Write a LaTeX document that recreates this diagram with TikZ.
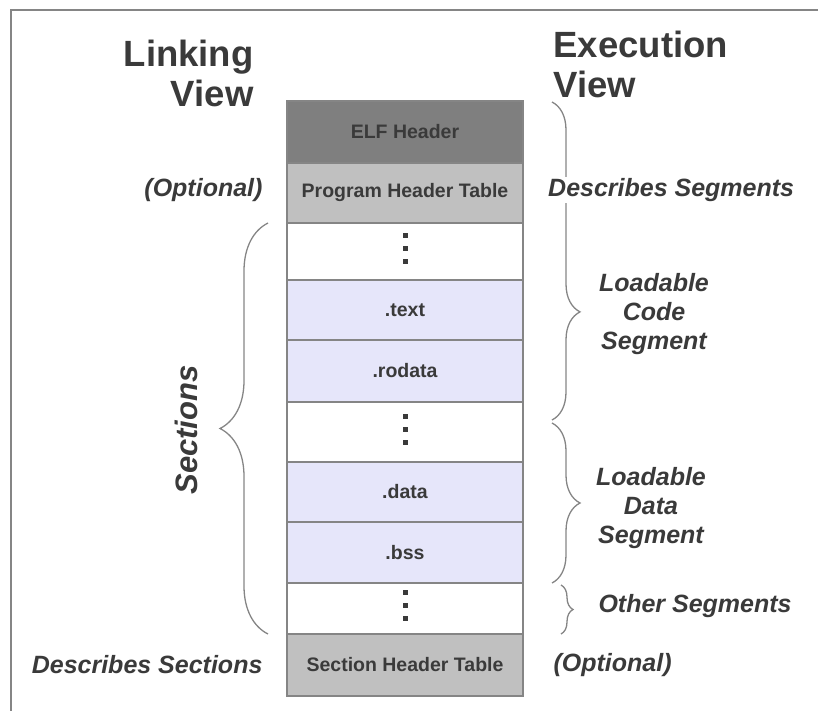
\documentclass[tikz,border=0pt]{standalone}
\usepackage{fontspec}
\setmainfont{Liberation Sans}
\usetikzlibrary{positioning,decorations.pathreplacing}

\definecolor{ink}{HTML}{3A3A3A}
\definecolor{rule}{HTML}{858585}
\definecolor{hdrdark}{HTML}{7F7F7F}
\definecolor{hdrlight}{HTML}{C0C0C0}
\definecolor{secfill}{HTML}{E6E6FA}

\begin{document}
\begin{tikzpicture}
    [x=1pt,y=-1pt,
     every node/.style={text=ink,font=\bfseries\fontsize{19.5}{22}\selectfont},
     cell/.style={draw=rule,line width=1.5pt,minimum width=236pt,outer sep=0pt,inner sep=0pt},
     viewtitle/.style={font=\bfseries\fontsize{36.5}{40}\selectfont},
     note/.style={font=\bfseries\itshape\fontsize{25}{29}\selectfont},
     curly/.style={draw=rule,line width=1.3pt,decorate,decoration={brace,amplitude=#1}}]
    \useasboundingbox (0,0) rectangle (818,711);
    \draw[rule,line width=2pt] (818,10) -- (11,10) -- (11,711);

    % the file layout, top to bottom
    \node[cell,fill=hdrdark,minimum height=62pt,anchor=north] (elf) at (405,101) {ELF Header};
    \node[cell,fill=hdrlight,minimum height=60pt,below=0pt of elf] (pht) {Program Header Table};
    \node[cell,fill=white,minimum height=57pt,below=0pt of pht] (gap1) {};
    \node[cell,fill=secfill,minimum height=60pt,below=0pt of gap1] (text) {.text};
    \node[cell,fill=secfill,minimum height=62pt,below=0pt of text] (rodata) {.rodata};
    \node[cell,fill=white,minimum height=60pt,below=0pt of rodata] (gap2) {};
    \node[cell,fill=secfill,minimum height=60pt,below=0pt of gap2] (data) {.data};
    \node[cell,fill=secfill,minimum height=61pt,below=0pt of data] (bss) {.bss};
    \node[cell,fill=white,minimum height=51pt,below=0pt of bss] (gap3) {};
    \node[cell,fill=hdrlight,minimum height=62pt,below=0pt of gap3] (sht) {Section Header Table};

    % vertical dots
    \foreach \g in {gap1,gap2,gap3}
      \foreach \d in {-13,0,13}
        \fill[ink] ([yshift=\d pt+3pt]\g.center) +(-2.5pt,-2.5pt) rectangle +(2.5pt,2.5pt);

    % linking view
    \node[viewtitle,align=right,anchor=base east] (linking) at (257,107) {Linking\\View};
    \node[note,anchor=east] (optl) at (266,190) {(Optional)};
    \draw[curly=48] ([xshift=-19pt]gap3.south west) -- ([xshift=-19pt]gap1.north west);
    \node[note,rotate=90,font=\bfseries\itshape\fontsize{31}{34}\selectfont] (sections) at (186,430) {Sections};
    \node[note,anchor=east] (descsec) at (266,665) {Describes Sections};

    % execution view
    \node[viewtitle,align=left,anchor=base west] (execution) at (550,98) {Execution\\View};
    \draw[curly=28,decoration={aspect=0.66}] ([xshift=29pt,yshift=-1pt]elf.north east) -- ([xshift=29pt,yshift=12pt]gap2.east);
    \node[note,fill=white,inner sep=1pt,anchor=west] (descseg) at (547,190) {Describes Segments};
    \node[note,align=center] (code) at (654,314) {Loadable\\Code\\Segment};
    \draw[curly=28] ([xshift=29pt,yshift=9pt]gap2.east) -- ([xshift=29pt]bss.south east);
    \node[note,align=center] (datseg) at (651,508) {Loadable\\Data\\Segment};
    \draw[curly=12] ([xshift=38pt,yshift=-2pt]gap3.north east) -- ([xshift=38pt]gap3.south east);
    \node[note,anchor=west] (other) at (595,606) {Other Segments};
    \node[note,anchor=west] (optr) at (550,665) {(Optional)};
\end{tikzpicture}
\end{document}
